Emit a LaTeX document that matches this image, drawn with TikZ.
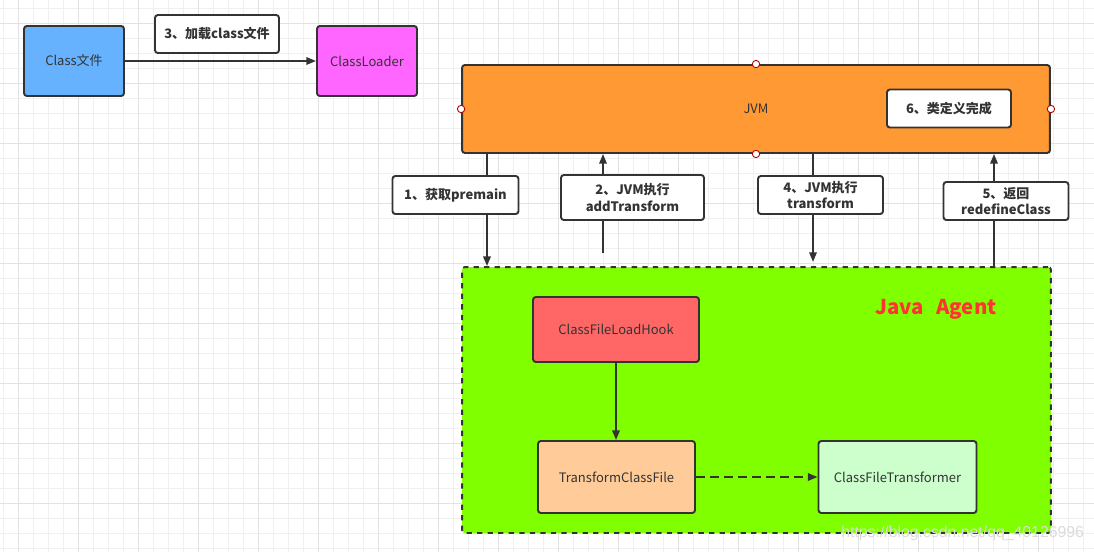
\documentclass[tikz,border=0pt]{standalone}
\usepackage{fontspec}
\setmainfont{Noto Sans CJK SC}
\newfontfamily\wmfont{Liberation Sans}
\usepackage{tikz}
\usetikzlibrary{arrows.meta}

\definecolor{gridminor}{HTML}{F0F0F0}
\definecolor{gridmajor}{HTML}{E2E2E2}
\definecolor{linegray}{HTML}{333333}
\definecolor{textgray}{HTML}{333333}
\definecolor{fileblue}{HTML}{66B2FF}
\definecolor{loaderpink}{HTML}{FF66FF}
\definecolor{jvmorange}{HTML}{FF9933}
\definecolor{agentgreen}{HTML}{80FF00}
\definecolor{hookred}{HTML}{FF6666}
\definecolor{tcfpeach}{HTML}{FFCC99}
\definecolor{cftmint}{HTML}{CCFFCC}
\definecolor{agentred}{HTML}{FF3333}
\definecolor{handlered}{HTML}{B20000}

\begin{document}
\begin{tikzpicture}[x=0.02cm, y=-0.02cm,
    box/.style={draw=linegray, line width=1.1pt, rounded corners=1.6pt, inner sep=0pt,
                text=textgray, align=center, font=\fontsize{7.4}{9}\selectfont},
    tag/.style={box, fill=white, font=\bfseries\fontsize{7.4}{9.2}\selectfont},
    arr/.style={draw=linegray, line width=1.1pt, -{Triangle[length=5.5pt, width=4.2pt]}},
    handle/.style={circle, draw=handlered, fill=white, line width=0.5pt, inner sep=0pt, minimum size=4.2pt}]
  \useasboundingbox (0,0) rectangle (1094,552);

  % grid paper
  \foreach \i in {0,...,72} \draw[gridminor, line width=0.6pt] (3.3+15*\i,0) -- (3.3+15*\i,552);
  \foreach \j in {0,...,36} \draw[gridminor, line width=0.6pt] (0,8.3+15*\j) -- (1094,8.3+15*\j);
  \foreach \i in {0,...,17} \draw[gridmajor, line width=0.6pt] (18.3+60*\i,0) -- (18.3+60*\i,552);
  \foreach \j in {0,...,8} \draw[gridmajor, line width=0.6pt] (0,23.3+60*\j) -- (1094,23.3+60*\j);

  % loading
  \node[box, fill=fileblue, minimum width=2cm, minimum height=1.4cm] (cfile) at (74,61) {Class文件};
  \node[box, fill=loaderpink, minimum width=2cm, minimum height=1.4cm] (loader) at (367,61) {ClassLoader};
  \draw[arr] (cfile) -- (loader);
  \node[tag, minimum width=2.48cm, minimum height=0.76cm] (load) at (217,34) {3、加载class文件};

  % jvm and agent
  \node[box, fill=jvmorange, minimum width=11.76cm, minimum height=1.76cm] (jvm) at (756,109) {JVM};
  \node[tag, minimum width=2.48cm, minimum height=0.76cm] (done) at (949,108.5) {6、类定义完成};
  \node[box, fill=agentgreen, dashed, minimum width=11.78cm, minimum height=5.32cm] (agent) at (756.5,400) {};
  \node[text=agentred, font=\bfseries\fontsize{11.6}{13}\selectfont] (title) at (936,309) {Java\hspace{0.6em}Agent};
  \foreach \a in {north,south,east,west} \node[handle] at (jvm.\a) {};

  \node[box, fill=hookred, minimum width=3.32cm, minimum height=1.3cm] (hook) at (616,329.5) {ClassFileLoadHook};
  \node[box, fill=tcfpeach, minimum width=3.14cm, minimum height=1.44cm] (tcf) at (616.5,477) {TransformClassFile};
  \node[box, fill=cftmint, minimum width=3.16cm, minimum height=1.44cm] (cft) at (897.5,477) {ClassFileTransformer};
  \draw[arr] (hook.south) -- (hook.south |- tcf.north);
  \draw[arr, dash pattern=on 5pt off 3pt] (tcf) -- (cft);

  % calls between jvm and agent
  \coordinate (a1) at (487,0);
  \coordinate (a2) at (603,253);
  \coordinate (a4) at (813,262);
  \coordinate (a5) at (994,0);
  \draw[arr] (jvm.south -| a1) -- (agent.north -| a1);
  \draw[arr] (a2) -- (jvm.south -| a2);
  \draw[arr] (jvm.south -| a4) -- (a4);
  \draw[arr] (agent.north -| a5) -- (jvm.south -| a5);
  \node[tag, minimum width=2.52cm, minimum height=0.76cm] (step1) at (455.5,195) {1、获取premain};
  \node[tag, minimum width=2.86cm, minimum height=0.9cm] (step2) at (632.5,197.5) {2、JVM执行\\addTransform};
  \node[tag, minimum width=2.5cm, minimum height=0.76cm] (step4) at (820.5,195) {4、JVM执行\\transform};
  \node[tag, minimum width=2.5cm, minimum height=0.76cm] (step5) at (1006,201) {5、返回\\redefineClass};

  \node[anchor=west, inner sep=0pt, text=white!86!black, font=\wmfont\fontsize{9}{10}\selectfont] (mark) at (841,533) {https://blog.csdn.net/qq\_40126996};
\end{tikzpicture}
\end{document}
